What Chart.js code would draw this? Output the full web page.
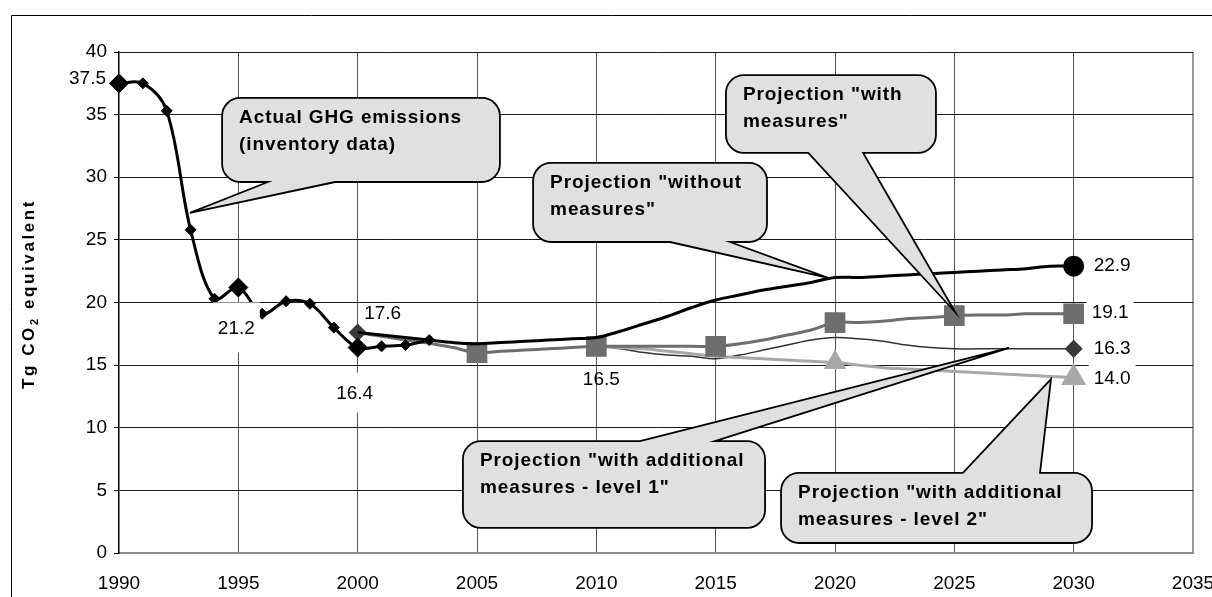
<!DOCTYPE html>
<html>
<head>
<meta charset="utf-8">
<script src="https://cdn.jsdelivr.net/npm/chart.js@4/dist/chart.umd.min.js"></script>
<style>
html,body{margin:0;padding:0;background:#fff;overflow:hidden}
#wrap{position:relative;width:1212px;height:597px}
</style>
</head>
<body>
<div id="wrap"><canvas id="c" width="1212" height="597"></canvas></div>
<script>
// ---------------- DATA ----------------
const inventoryYears  = [1990,1991,1992,1993,1994,1995,1996,1997,1998,1999,2000,2001,2002,2003];
const inventoryValues = [37.5,37.5,35.3,25.8,20.3,21.2,19.1,20.1,19.9,18.0,16.4,16.5,16.6,17.0];

const projectionYears = [2000,2001,2002,2003,2004,2005,2006,2007,2008,2009,2010,2011,2012,2013,2014,2015,
                         2016,2017,2018,2019,2020,2021,2022,2023,2024,2025,2026,2027,2028,2029,2030];
const withoutMeasures = [17.6,17.4,17.2,17.0,16.8,16.7,16.8,16.9,17.0,17.1,17.2,17.7,18.3,18.9,19.6,20.2,
                         20.6,21.0,21.3,21.6,22.0,22.0,22.1,22.2,22.3,22.4,22.5,22.6,22.7,22.9,22.9];
const withMeasures    = [17.6,17.3,17.0,16.75,16.4,16.0,16.1,16.2,16.3,16.4,16.5,16.5,16.5,16.5,16.5,16.5,
                         16.7,17.0,17.4,17.8,18.4,18.4,18.5,18.7,18.8,18.95,19.0,19.0,19.1,19.1,19.1];
const additionalLevel1 = [17.6,17.3,17.0,16.75,16.4,16.0,16.1,16.2,16.3,16.4,16.5,16.3,16.0,15.8,15.7,15.5,
                          15.8,16.2,16.6,17.0,17.2,17.1,16.9,16.6,16.4,16.3,16.3,16.3,16.3,16.3,16.3];
const level2Years      = [2010,2011,2012,2013,2014,2015,2016,2017,2018,2019,2020,2021,2022,2023,2024,2025,2026,2027,2028,2029,2030];
const additionalLevel2 = [16.5,16.4,16.3,16.1,15.9,15.7,15.6,15.5,15.4,15.3,15.2,15.0,14.8,14.7,14.6,14.5,14.4,14.3,14.2,14.1,14.0];

const xTickValues = [1990,1995,2000,2005,2010,2015,2020,2025,2030,2035];
const yTickValues = [0,5,10,15,20,25,30,35,40];
const yAxisTitle = ['Tg CO', '2', ' equivalent'];

// callout annotations (text + anchor in data units)
const callouts = [
  {lines:['Actual GHG emissions','(inventory data)'], box:[1994.32,36.33,2005.96,29.62], edge:'bottom', base:[1996.24,1999.05], tip:[1992.97,27.15]},
  {lines:['Projection "without','measures"'], box:[2007.35,31.14,2017.15,24.83], edge:'bottom', base:[2013.09,2015.60], tip:[2019.71,21.96]},
  {lines:['Projection "with','measures"'], box:[2015.43,38.16,2024.23,31.94], edge:'bottom', base:[2018.88,2021.18], tip:[2025.03,19.24]},
  {lines:['Projection "with additional','measures - level 1"'], box:[2004.41,8.94,2017.07,2.0], edge:'top', base:[2011.83,2014.97], tip:[2027.29,16.37]},
  {lines:['Projection "with additional','measures - level 2"'], box:[2017.74,6.39,2030.77,0.80], edge:'top', base:[2025.36,2028.59], tip:[2029.05,13.89]}
];

// ---------------- CHART ----------------
const FONT = '"Liberation Sans", Arial, sans-serif';
const pts = (xs, ys) => xs.map((x, i) => ({x: x, y: ys[i]}));

const DS_INV = 0, DS_WOM = 1, DS_WM = 2, DS_WAM1 = 3, DS_WAM2 = 4;

const valueLabels = [
  {ds:DS_INV,  i:0,  dx:-13, dy:-6, align:'right',  bg:false},
  {ds:DS_INV,  i:5,  dx:-2,  dy:40, align:'center', bg:true, h:25},
  {ds:DS_INV,  i:10, dx:-3,  dy:45, align:'center', bg:true, h:20},
  {ds:DS_WAM1, i:0,  dx:25,  dy:-20,align:'center', bg:false},
  {ds:DS_WM,   i:10, dx:5,   dy:32, align:'center', bg:false},
  {ds:DS_WOM,  i:30, dx:20,  dy:-1, align:'left',   bg:true, h:14},
  {ds:DS_WM,   i:30, dx:18,  dy:-2, align:'left',   bg:true, h:14},
  {ds:DS_WAM1, i:30, dx:20,  dy:-1, align:'left',   bg:true, h:14},
  {ds:DS_WAM2, i:20, dx:20,  dy:0,  align:'left',   bg:true, h:14}
];

const framePlugin = {
  id:'frame',
  beforeDraw(chart){
    const c = chart.ctx;
    c.save();
    c.fillStyle = '#fff';
    c.fillRect(0,0,chart.width,chart.height);
    c.strokeStyle = '#000';
    c.lineWidth = 1;
    c.beginPath();
    c.moveTo(11.5, chart.height);
    c.lineTo(11.5, 15.5);
    c.lineTo(chart.width, 15.5);
    c.stroke();
    c.restore();
  },
  afterDraw(chart){
    // y axis title
    const c = chart.ctx;
    c.save();
    c.translate(34, 294);
    c.rotate(-Math.PI/2);
    c.fillStyle = '#000';
    c.textBaseline = 'alphabetic';
    c.textAlign = 'left';
    c.letterSpacing = '2.6px';
    const big = 'bold 17px ' + FONT, small = 'bold 11px ' + FONT;
    c.font = big; const w1 = c.measureText(yAxisTitle[0]).width;
    c.font = small; const w2 = c.measureText(yAxisTitle[1]).width;
    c.font = big; const w3 = c.measureText(yAxisTitle[2]).width;
    let x = -(w1 + w2 + w3) / 2;
    c.font = big; c.fillText(yAxisTitle[0], x, 0); x += w1;
    c.font = small; c.fillText(yAxisTitle[1], x, 4); x += w2;
    c.font = big; c.fillText(yAxisTitle[2], x, 0);
    c.restore();
  }
};

const labelPlugin = {
  id:'valueLabels',
  afterDatasetsDraw(chart){
    const c = chart.ctx;
    c.save();
    c.font = '19px ' + FONT;
    c.textBaseline = 'middle';
    c.textAlign = 'left';
    for (const L of valueLabels) {
      const el = chart.getDatasetMeta(L.ds).data[L.i];
      const v = chart.data.datasets[L.ds].data[L.i].y;
      const t = v.toFixed(1);
      const w = c.measureText(t).width;
      const x = el.x + L.dx, y = el.y + L.dy;
      const left = L.align === 'right' ? x - w : (L.align === 'center' ? x - w/2 : x);
      if (L.bg) {
        c.fillStyle = '#fff';
        c.fillRect(left - 5, y - L.h, w + 10, L.h * 2);
      }
      c.fillStyle = '#000';
      c.fillText(t, left, y + 1);
    }
    c.restore();
  }
};

function bubblePath(c, L, T, R, B, r, edge, b1, b2, tx, ty) {
  c.beginPath();
  c.moveTo(L + r, T);
  if (edge === 'top') { c.lineTo(b1, T); c.lineTo(tx, ty); c.lineTo(b2, T); }
  c.lineTo(R - r, T);
  c.arcTo(R, T, R, T + r, r);
  c.lineTo(R, B - r);
  c.arcTo(R, B, R - r, B, r);
  if (edge === 'bottom') { c.lineTo(b2, B); c.lineTo(tx, ty); c.lineTo(b1, B); }
  c.lineTo(L + r, B);
  c.arcTo(L, B, L, B - r, r);
  c.lineTo(L, T + r);
  c.arcTo(L, T, L + r, T, r);
  c.closePath();
}

const calloutPlugin = {
  id:'callouts',
  afterDraw(chart){
    const c = chart.ctx, sx = chart.scales.x, sy = chart.scales.y;
    c.save();
    for (const k of callouts) {
      const L = sx.getPixelForValue(k.box[0]), T = sy.getPixelForValue(k.box[1]);
      const R = sx.getPixelForValue(k.box[2]), B = sy.getPixelForValue(k.box[3]);
      const b1 = sx.getPixelForValue(k.base[0]), b2 = sx.getPixelForValue(k.base[1]);
      const tx = sx.getPixelForValue(k.tip[0]), ty = sy.getPixelForValue(k.tip[1]);
      bubblePath(c, L, T, R, B, 18, k.edge, b1, b2, tx, ty);
      c.fillStyle = '#e0e0e0';
      c.fill();
      c.strokeStyle = '#000';
      c.lineWidth = 1.8;
      c.lineJoin = 'miter';
      c.stroke();
      c.fillStyle = '#000';
      c.font = 'bold 19px ' + FONT;
      c.letterSpacing = '0.9px';
      c.textBaseline = 'alphabetic';
      c.textAlign = 'left';
      k.lines.forEach((s, i) => c.fillText(s, L + 17, T + 25 + i * 27));
      c.letterSpacing = '0px';
    }
    c.restore();
  }
};

const chart = new Chart(document.getElementById('c'), {
  type: 'line',
  data: {
    datasets: [
      { label:'Actual GHG emissions', data: pts(inventoryYears, inventoryValues),
        borderColor:'#000', borderWidth:3, tension:0.35, clip:false, order:1,
        pointStyle:'rectRot', pointBackgroundColor:'#000', pointBorderColor:'#000', pointBorderWidth:1,
        pointRadius: inventoryYears.map(y => (y === 1990 || y === 1995 || y === 2000) ? 9.5 : 5.5) },
      { label:'Without measures', data: pts(projectionYears, withoutMeasures),
        borderColor:'#000', borderWidth:3, tension:0.35, clip:false, order:2,
        pointStyle:'circle', pointBackgroundColor:'#000', pointBorderColor:'#000',
        pointRadius: projectionYears.map(y => y === 2030 ? 9 : 0) },
      { label:'With measures', data: pts(projectionYears, withMeasures),
        borderColor:'#6e6e6e', borderWidth:3, tension:0.35, clip:false, order:3,
        pointStyle:'rect', pointBackgroundColor:'#6e6e6e', pointBorderColor:'#6e6e6e',
        pointRadius: projectionYears.map(y => (y > 2000 && y % 5 === 0) ? 12.5 : 0) },
      { label:'With additional measures - level 1', data: pts(projectionYears, additionalLevel1),
        borderColor:'#333', borderWidth:1.5, tension:0.35, clip:false, order:5,
        pointStyle:'rectRot', pointBackgroundColor:'#3a3a3a', pointBorderColor:'#3a3a3a',
        pointRadius: projectionYears.map(y => (y === 2000 || y === 2030) ? 8 : 0) },
      { label:'With additional measures - level 2', data: pts(level2Years, additionalLevel2),
        borderColor:'#a8a8a8', borderWidth:3, tension:0.35, clip:false, order:4,
        pointStyle:'triangle', pointBackgroundColor:'#a8a8a8', pointBorderColor:'#a8a8a8',
        pointRadius: level2Years.map(y => y === 2020 ? 10 : (y === 2030 ? 11.5 : 0)) }
    ]
  },
  options: {
    responsive:false, animation:false, devicePixelRatio:1,
    layout:{ padding:{ left:0, right:19, top:52, bottom:0 } },
    plugins:{ legend:{display:false}, tooltip:{enabled:false} },
    elements:{ point:{ hoverRadius:0 } },
    scales:{
      x:{
        type:'linear', min:1990, max:2035,
        afterBuildTicks: s => { s.ticks = xTickValues.map(v => ({value:v})); },
        afterFit: s => { s.height = 44; s.paddingLeft = 0; s.paddingRight = 0; },
        ticks:{ autoSkip:false, maxRotation:0, padding:19, color:'#000',
                font:{ family:FONT, size:19 }, callback: v => String(v) },
        grid:{ drawTicks:false,
               color: ctx => ctx.tick && ctx.tick.value === 2035 ? '#9a9a9a' : (ctx.tick && ctx.tick.value === 1990 ? 'rgba(0,0,0,0)' : '#555'),
               lineWidth: ctx => ctx.tick && ctx.tick.value === 2035 ? 2 : 1 },
        border:{ color:'#8a8a8a', width:2 }
      },
      y:{
        min:0, max:40,
        afterBuildTicks: s => { s.ticks = yTickValues.map(v => ({value:v})); },
        afterFit: s => { s.width = 119; s.paddingTop = 0; s.paddingBottom = 0; },
        ticks:{ padding:7, color:'#000', font:{ family:FONT, size:19 }, callback: v => String(v) },
        grid:{ tickLength:5, tickColor:'#000', tickWidth:1,
               color: ctx => ctx.tick && ctx.tick.value === 0 ? 'rgba(0,0,0,0)' : '#1a1a1a' },
        border:{ color:'#000', width:1.5 }
      }
    }
  },
  plugins:[framePlugin, labelPlugin, calloutPlugin]
});
</script>
</body>
</html>
